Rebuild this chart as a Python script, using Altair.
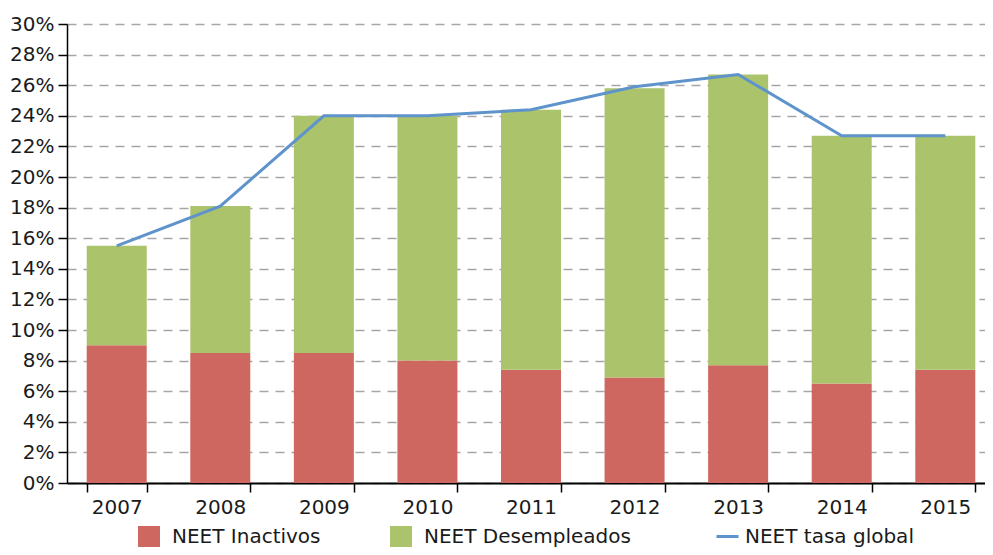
import altair as alt
import pandas as pd

years = ["2007", "2008", "2009", "2010", "2011", "2012", "2013", "2014", "2015"]
inactivos = [9.0, 8.5, 8.5, 8.0, 7.4, 6.9, 7.7, 6.5, 7.4]
desempleados = [6.5, 9.6, 15.5, 16.0, 17.0, 18.9, 19.0, 16.2, 15.3]
tasa_global = [15.5, 18.1, 24.0, 24.0, 24.4, 25.9, 26.7, 22.7, 22.7]
series = ["NEET Inactivos", "NEET Desempleados"]
line_name = "NEET tasa global"
y_ticks = [0, 2, 4, 6, 8, 10, 12, 14, 16, 18, 20, 22, 24, 26, 28, 30]

rows = []
for yr, a, b in zip(years, inactivos, desempleados):
    rows.append({"anio": yr, "serie": series[0], "valor": a / 100, "orden": 0})
    rows.append({"anio": yr, "serie": series[1], "valor": b / 100, "orden": 1})
bars_df = pd.DataFrame(rows)
line_df = pd.DataFrame({"anio": years, "valor": [v / 100 for v in tasa_global], "linea": line_name})

FONT = "DejaVu Sans"
TXT = "#1a1a1a"

x_enc = alt.X(
    "anio:N", title=None, sort=years,
    scale=alt.Scale(paddingInner=0.42, paddingOuter=0.19, range=[0, 928]),
    axis=alt.Axis(labelAngle=0, tickBand="extent", domainColor="black", domainWidth=2,
                  tickColor="black", tickSize=9, tickWidth=1.5, labelFontSize=20,
                  labelColor=TXT, labelPadding=5, grid=False, labelFont=FONT),
)
y_axis = alt.Axis(values=[v / 100 for v in y_ticks], tickCount=len(y_ticks), format=".0%",
                  title=None, domainColor="black", domainWidth=1.5, tickColor="black",
                  tickSize=9, tickWidth=1.5, labelFontSize=20, labelColor=TXT,
                  labelPadding=4, labelFont=FONT, labelOverlap=False, grid=True,
                  gridDash=[9, 7], gridColor="#a6a6a6", gridWidth=1.5)

bars = alt.Chart(bars_df).mark_bar(size=60).encode(
    x=x_enc,
    y=alt.Y("valor:Q", stack="zero", scale=alt.Scale(domain=[0, 0.30]), axis=y_axis),
    color=alt.Color("serie:N", scale=alt.Scale(domain=series, range=["#CD6760", "#ABC36B"]),
                    legend=alt.Legend(title=None, orient="none", legendX=71, legendY=502,
                                      direction="horizontal", symbolType="square",
                                      symbolSize=484, symbolStrokeWidth=0, labelFontSize=20,
                                      labelFont=FONT, labelColor=TXT, labelOffset=12,
                                      labelLimit=400, columnPadding=69, symbolOpacity=1)),
    order=alt.Order("orden:Q"),
)

line = alt.Chart(line_df).mark_line(strokeWidth=3).encode(
    x=alt.X("anio:N", sort=years),
    y=alt.Y("valor:Q"),
    color=alt.Color("linea:N", scale=alt.Scale(domain=[line_name], range=["#5F93CB"]),
                    legend=alt.Legend(title=None, orient="none", legendX=648, legendY=500,
                                      direction="horizontal", symbolType="stroke",
                                      symbolSize=484, symbolStrokeWidth=3, labelFontSize=20,
                                      labelFont=FONT, labelColor=TXT, labelOffset=5,
                                      labelLimit=400)),
)

chart = alt.layer(bars, line).resolve_scale(color="independent").properties(
    width=918, height=459,
    autosize=alt.AutoSizeParams(type="none"),
    padding={"left": 59, "top": 16, "right": 0, "bottom": 64},
).configure_view(stroke=None)

chart.save("out.html", embed_options={"renderer": "svg", "actions": False})
